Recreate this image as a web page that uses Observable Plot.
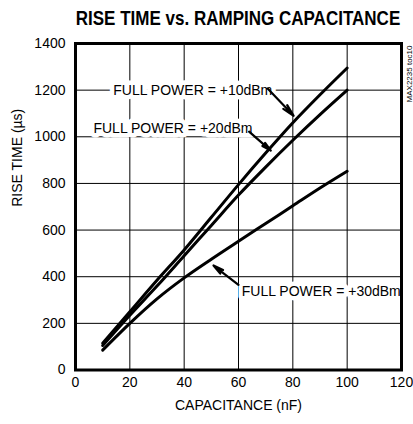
<!DOCTYPE html>
<html>
<head>
<meta charset="utf-8">
<script src="https://cdn.jsdelivr.net/npm/d3@7"></script>
<script src="https://cdn.jsdelivr.net/npm/@observablehq/plot@0.6"></script>
<style>
  html, body { margin: 0; padding: 0; background: #fff; }
  body { width: 413px; height: 424px; overflow: hidden; font-family: 'Liberation Sans', Arial, sans-serif; position: relative; }
  #title { position: relative; height: 30px; color: #000; }
  #title span { position: absolute; left: 238px; top: 0; line-height: 36px; white-space: nowrap; font-weight: bold; font-size: 21px; transform: translateX(-50%) scaleX(0.81); }
  #chart svg { display: block; }
</style>
</head>
<body>
<div id="title"><span>RISE TIME vs. RAMPING CAPACITANCE</span></div>
<div id="chart"></div>
<script>
// ---- data ----
const capacitance = [10, 20, 30, 40, 50, 60, 70, 80, 90, 100];           // nF
const riseFull10 = [115, 250, 385, 515, 655, 795, 930, 1060, 1180, 1295]; // µs, FULL POWER = +10dBm
const riseFull20 = [105, 235, 360, 490, 620, 750, 870, 985, 1095, 1200];  // µs, FULL POWER = +20dBm
const riseFull30 = [85, 200, 305, 395, 475, 552, 628, 704, 780, 852];     // µs, FULL POWER = +30dBm
const seriesNames = ["FULL POWER = +10dBm", "FULL POWER = +20dBm", "FULL POWER = +30dBm"];

const xTicks = [0, 20, 40, 60, 80, 100, 120];
const yTicks = [0, 200, 400, 600, 800, 1000, 1200, 1400];

// annotation labels (text anchor position in data units) and their arrows
const labelX = [13.9, 6.6, 61.2];
const labelY = [1198, 1035, 338];
const arrowFromX = [70.8, 63.9, 60.0];
const arrowFromY = [1206, 1022, 365];
const arrowToX = [80.3, 71.9, 50.8];
const arrowToY = [1090, 941, 448];

// ---- build tables ----
const series = [riseFull10, riseFull20, riseFull30];
const lineData = series.flatMap((vals, i) =>
  capacitance.map((c, j) => ({ c, t: vals[j], s: seriesNames[i] })));
const labels = seriesNames.map((name, i) => ({ name, x: labelX[i], y: labelY[i] }));
const arrows = seriesNames.map((name, i) => ({
  x1: arrowFromX[i], y1: arrowFromY[i], x2: arrowToX[i], y2: arrowToY[i]
}));

const font = "'Liberation Sans', Arial, sans-serif";

const chart = Plot.plot({
  width: 413,
  height: 394,
  marginTop: 13,
  marginBottom: 54.5,
  marginLeft: 75,
  marginRight: 12,
  style: { fontFamily: font, fontSize: "14px", color: "#000", background: "#fff" },
  x: { domain: [0, 120], label: null },
  y: { domain: [0, 1400], label: null },
  marks: [
    Plot.gridX(xTicks, { stroke: "#000", strokeOpacity: 1, strokeWidth: 1 }),
    Plot.gridY(yTicks, { stroke: "#000", strokeOpacity: 1, strokeWidth: 1 }),
    Plot.axisX(xTicks, { tickSize: 0, tickPadding: 7, fontSize: 14, label: null, tickFormat: d => String(d) }),
    Plot.axisY(yTicks, { tickSize: 0, tickPadding: 10, fontSize: 14, label: null, tickFormat: d => String(d) }),
    Plot.line(lineData, { x: "c", y: "t", z: "s", stroke: "#000", strokeWidth: 3, curve: "monotone-x" }),
    Plot.text(labels, {
      x: "x", y: "y", text: "name", textAnchor: "start", fontSize: 14,
      fill: "#000", stroke: "#fff", strokeWidth: 9, paintOrder: "stroke"
    }),
    Plot.arrow(arrows, {
      x1: "x1", y1: "y1", x2: "x2", y2: "y2",
      stroke: "#000", strokeWidth: 2.2, headLength: 10, headAngle: 25
    }),
    Plot.frame({ stroke: "#000", strokeWidth: 3 }),
    Plot.text(["CAPACITANCE (nF)"], { frameAnchor: "bottom", dy: 40, fontSize: 14, fill: "#000" }),
    Plot.text(["RISE TIME (µs)"], { frameAnchor: "left", rotate: -90, dx: -58, fontSize: 14, fill: "#000" }),
    Plot.text(["MAX2235 toc10"], { frameAnchor: "top-right", rotate: -90, textAnchor: "end", dx: 5, dy: 2, fontSize: 8, fill: "#000" })
  ]
});
document.getElementById("chart").appendChild(chart);
</script>
</body>
</html>
